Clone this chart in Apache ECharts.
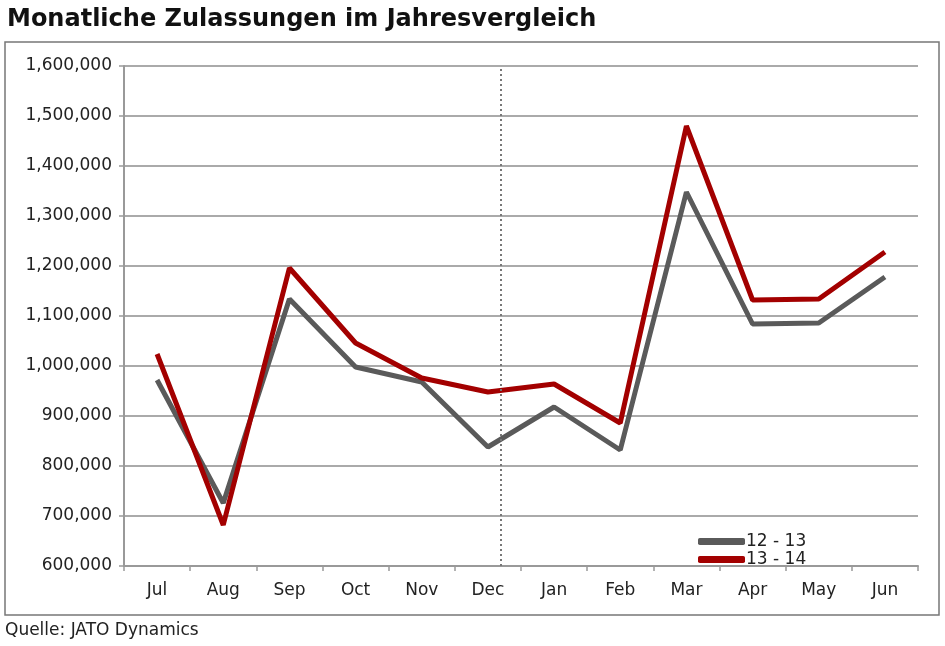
<!DOCTYPE html>
<html>
<head>
<meta charset="utf-8">
<script src="https://cdn.jsdelivr.net/npm/echarts@6/dist/echarts.min.js"></script>
<style>
html, body { margin: 0; padding: 0; background: #fff; }
#chart { width: 945px; height: 646px; }
</style>
</head>
<body>
<div id="chart"></div>
<script>
// months of the fiscal year, Jul..Jun
var months = ['Jul', 'Aug', 'Sep', 'Oct', 'Nov', 'Dec', 'Jan', 'Feb', 'Mar', 'Apr', 'May', 'Jun'];
var seriesNames = ['12 - 13', '13 - 14'];
var values1213 = [972000, 726000, 1134000, 998000, 968000, 838000, 918000, 832000, 1348000, 1084000, 1086000, 1178000];
var values1314 = [1024000, 682000, 1196000, 1046000, 976000, 948000, 964000, 886000, 1480000, 1132000, 1134000, 1228000];
var yMin = 600000, yMax = 1600000, yStep = 100000;
// divider sits just right of the Dec centre (0..12 band scale)
var dividerPos = 5.7;

var labelFont = '"DejaVu Sans", Verdana, sans-serif';

var chart = echarts.init(document.getElementById('chart'));

function fmt(v) {
	return String(v).replace(/\B(?=(\d{3})+(?!\d))/g, ',');
}

var option = {
	animation: false,
	backgroundColor: '#fff',
	title: {
		text: 'Monatliche Zulassungen im Jahresvergleich',
		left: 2,
		top: 3,
		textStyle: { fontFamily: '"DejaVu Sans", sans-serif', fontWeight: 'bold', fontSize: 24, color: '#111' }
	},
	graphic: [
		{
			type: 'rect',
			shape: { x: 5, y: 42, width: 934, height: 573 },
			style: { fill: 'none', stroke: '#777', lineWidth: 1.5 }
		},
		{
			type: 'text',
			left: 5,
			top: 622,
			style: { text: 'Quelle: JATO Dynamics', font: '17px ' + labelFont, fill: '#222' }
		}
	],
	legend: {
		orient: 'vertical',
		left: 693,
		top: 528,
		itemWidth: 47,
		itemHeight: 7,
		itemGap: 1,
		icon: 'roundRect',
		textStyle: { fontFamily: labelFont, fontSize: 17, color: '#222', padding: [0, 0, 0, -4] },
		data: seriesNames
	},
	grid: { left: 124, right: 27, top: 66, bottom: 80 },
	xAxis: [
		{
			type: 'category',
			data: months,
			boundaryGap: true,
			axisLine: { lineStyle: { color: '#999', width: 2 } },
			axisTick: { show: true, length: 5, lineStyle: { color: '#999', width: 1.5 } },
			axisLabel: { fontFamily: labelFont, fontSize: 17, color: '#222', margin: 16 }
		},
		{
			type: 'value',
			min: 0,
			max: months.length,
			show: false
		}
	],
	yAxis: {
		type: 'value',
		min: yMin,
		max: yMax,
		interval: yStep,
		axisLine: { show: true, lineStyle: { color: '#999', width: 2 } },
		axisTick: { show: true, length: 5, lineStyle: { color: '#999', width: 1.5 } },
		splitLine: { lineStyle: { color: '#aaa', width: 2 } },
		axisLabel: { fontFamily: labelFont, fontSize: 17, color: '#222', margin: 12, formatter: fmt }
	},
	series: [
		{
			name: seriesNames[0],
			type: 'line',
			data: values1213,
			symbol: 'none',
			color: '#5a5a5a',
			lineStyle: { width: 5, color: '#5a5a5a' },
			z: 3
		},
		{
			name: seriesNames[1],
			type: 'line',
			data: values1314,
			symbol: 'none',
			color: '#a30000',
			lineStyle: { width: 5, color: '#a30000' },
			z: 4
		},
		{
			name: 'divider',
			type: 'line',
			xAxisIndex: 1,
			data: [],
			symbol: 'none',
			z: 2,
			markLine: {
				silent: true,
				symbol: 'none',
				label: { show: false },
				lineStyle: { type: [2, 3], color: '#777', width: 2 },
				data: [{ xAxis: dividerPos }]
			}
		}
	]
};

chart.setOption(option);
</script>
</body>
</html>
